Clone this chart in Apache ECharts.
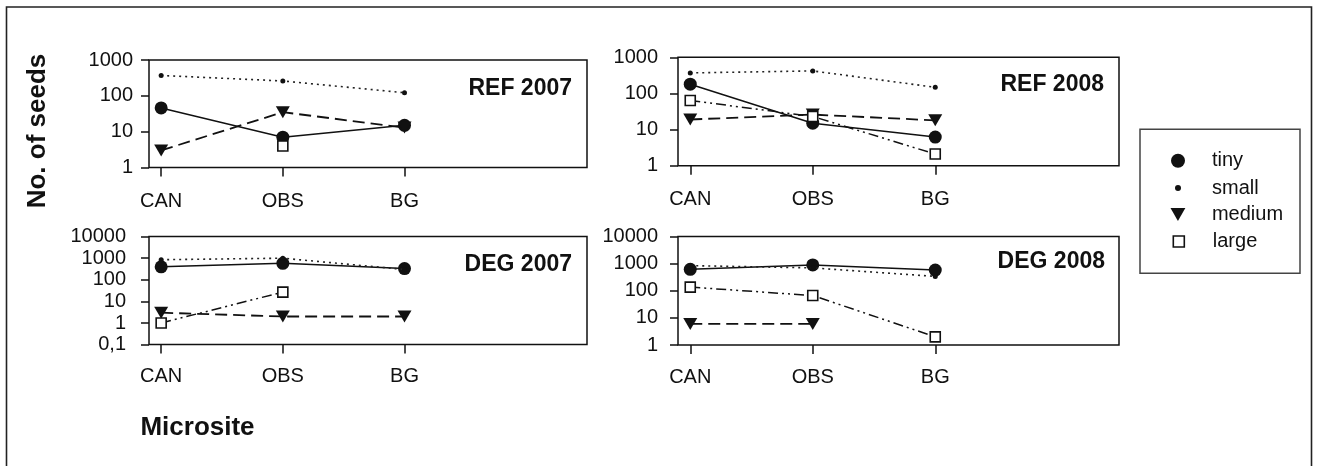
<!DOCTYPE html>
<html><head><meta charset="utf-8">
<script src="https://cdn.jsdelivr.net/npm/echarts@6/dist/echarts.min.js"></script>
<style>html,body{margin:0;padding:0;background:#fff}#c{width:1317px;height:466px}</style>
</head><body><div id="c"></div>
<script>
// ---------------- data ----------------
const categories = ['CAN', 'OBS', 'BG'];
const sizeClasses = ['tiny', 'small', 'medium', 'large'];
const panelTitles = ['REF 2007', 'REF 2008', 'DEG 2007', 'DEG 2008'];
const yAxisName = 'No. of seeds';
const xAxisName = 'Microsite';
const yRanges = [[1, 1000], [1, 1000], [0.1, 10000], [1, 10000]];

const ref2007Tiny   = [46, 7, 15];
const ref2007Small  = [370, 260, 122];
const ref2007Medium = [3, 35, 13];
const ref2007Large  = [null, 4, null];

const ref2008Tiny   = [180, 15, 6.2];
const ref2008Small  = [370, 420, 148];
const ref2008Medium = [19, 26, 18];
const ref2008Large  = [64, 23, 2.1];

const deg2007Tiny   = [400, 580, 330];
const deg2007Small  = [850, 1000, 300];
const deg2007Medium = [3, 2, 2];
const deg2007Large  = [1, 27, null];

const deg2008Tiny   = [620, 900, 580];
const deg2008Small  = [850, 700, 340];
const deg2008Medium = [6, 6, null];
const deg2008Large  = [137, 67, 2];

const panelData = [
  [ref2007Tiny, ref2007Small, ref2007Medium, ref2007Large],
  [ref2008Tiny, ref2008Small, ref2008Medium, ref2008Large],
  [deg2007Tiny, deg2007Small, deg2007Medium, deg2007Large],
  [deg2008Tiny, deg2008Small, deg2008Medium, deg2008Large]
];

// ---------------- layout / style ----------------
const FONT = 'Liberation Sans, Arial, sans-serif';
const INK = '#111';
const AXIS_FONT = 20;
const grids = [
  {left: 149, top: 60,    width: 438, height: 107.5},
  {left: 678, top: 57.3,  width: 441, height: 108.4},
  {left: 149, top: 236.6, width: 438, height: 108},
  {left: 678, top: 236.6, width: 441, height: 108.4}
];
const yLabelMargin = [16, 20, 23, 20];
const xLabelMargin = [24, 24, 22, 22];
const titlePos = [[572, 89], [1104, 85], [572, 265], [1105, 262]];

const seriesStyle = {
  tiny:   {symbol: 'circle', symbolSize: 13, rotate: 0,
           line: {color: INK, width: 1.5, type: 'solid'},
           item: {color: INK}},
  small:  {symbol: 'circle', symbolSize: 5, rotate: 0,
           line: {color: '#222', width: 1.6, type: [2, 4]},
           item: {color: INK}},
  medium: {symbol: 'triangle', symbolSize: [14, 12], rotate: 180,
           line: {color: INK, width: 1.8, type: [12, 6]},
           item: {color: INK}},
  large:  {symbol: 'rect', symbolSize: 10, rotate: 0,
           line: {color: INK, width: 1.5, type: [10, 4, 2, 4, 2, 4]},
           item: {color: '#fff', borderColor: INK, borderWidth: 1.6}}
};

function fmtTick(v) {
  const n = Number(Number(v).toPrecision(6));
  return String(n).replace('.', ',');
}

const xAxes = [], yAxes = [], series = [];
grids.forEach((g, i) => {
  xAxes.push({
    type: 'value', gridIndex: i, min: 0.9, max: 4.5,
    axisLine: {show: false},
    splitLine: {show: false},
    axisTick: {show: true, inside: false, length: 9, customValues: [1, 2, 3],
               lineStyle: {color: INK, width: 1.5}},
    axisLabel: {customValues: [1, 2, 3], margin: xLabelMargin[i],
                formatter: v => categories[Math.round(v) - 1] || '',
                color: INK, fontSize: AXIS_FONT, fontFamily: FONT}
  });
  yAxes.push({
    type: 'log', logBase: 10, gridIndex: i,
    min: yRanges[i][0], max: yRanges[i][1],
    axisLine: {show: false},
    splitLine: {show: false},
    axisTick: {show: true, inside: false, length: 8, lineStyle: {color: INK, width: 1.5}},
    axisLabel: {margin: yLabelMargin[i], formatter: fmtTick,
                color: INK, fontSize: AXIS_FONT, fontFamily: FONT}
  });
  const order = [1, 2, 0, 3]; // small, medium, tiny, large (large on top)
  order.forEach(k => {
    const name = sizeClasses[k];
    const st = seriesStyle[name];
    const vals = panelData[i][k];
    series.push({
      type: 'line', name: name, xAxisIndex: i, yAxisIndex: i,
      data: vals.map((v, j) => [j + 1, v == null ? '-' : v]),
      symbol: st.symbol, symbolSize: st.symbolSize, symbolRotate: st.rotate,
      showAllSymbol: true, connectNulls: false,
      lineStyle: st.line, itemStyle: st.item,
      emphasis: {disabled: true}, silent: true, animation: false, z: 2 + k
    });
  });
});

// legends: one per item so every icon can have its own size
const legendCenters = [160.7, 188, 214.5, 241.5];
const legendIcons = [
  {icon: 'circle', w: 14, h: 14, style: {color: INK, borderWidth: 0}},
  {icon: 'circle', w: 6, h: 6, style: {color: INK, borderWidth: 0}},
  {icon: 'path://M0,0 L2,0 L1,1.75 Z', w: 15, h: 13, style: {color: INK, borderWidth: 0}},
  {icon: 'path://M0,0 L1,0 L1,1 L0,1 Z', w: 11, h: 11, style: {color: '#fff', borderColor: INK, borderWidth: 1.6}}
];
const ICON_CX = 1178, TEXT_X = 1212, LEGEND_FONT = 20;
const legends = sizeClasses.map((name, k) => {
  const ic = legendIcons[k];
  const textPad = TEXT_X - (ICON_CX + ic.w / 2 + 5);
  return {
    orient: 'vertical', padding: 0,
    left: ICON_CX - ic.w / 2,
    top: legendCenters[k] - LEGEND_FONT / 2,
    itemWidth: ic.w, itemHeight: ic.h,
    selectedMode: false,
    data: [{name: name, icon: ic.icon, itemStyle: ic.style}],
    textStyle: {color: INK, fontSize: LEGEND_FONT, fontFamily: FONT, padding: [0, 0, 0, textPad]}
  };
});

const graphic = [
  {type: 'rect', shape: {x: 6.5, y: 7, width: 1305, height: 480},
   style: {fill: 'none', stroke: '#222', lineWidth: 1.6}, silent: true, z: 0},
  {type: 'rect', shape: {x: 1140, y: 129.3, width: 160, height: 144},
   style: {fill: 'none', stroke: '#444', lineWidth: 1.5}, silent: true},
  {type: 'text', x: 38, y: 131, rotation: Math.PI / 2,
   style: {text: yAxisName, font: 'bold 26px ' + FONT, fill: INK,
           textAlign: 'center', textVerticalAlign: 'middle'}},
  {type: 'text', x: 197.5, y: 428,
   style: {text: xAxisName, font: 'bold 26px ' + FONT, fill: INK,
           textAlign: 'center', textVerticalAlign: 'middle'}}
];
panelTitles.forEach((t, i) => {
  graphic.push({type: 'text', x: titlePos[i][0], y: titlePos[i][1],
    style: {text: t, font: 'bold 23px ' + FONT, fill: INK,
            textAlign: 'right', textVerticalAlign: 'middle'}});
});

const chart = echarts.init(document.getElementById('c'), null, {renderer: 'canvas'});
chart.setOption({
  backgroundColor: '#fff',
  animation: false,
  grid: grids.map(g => Object.assign({show: true, borderColor: INK, borderWidth: 1.5,
                                      backgroundColor: 'transparent', containLabel: false}, g)),
  xAxis: xAxes,
  yAxis: yAxes,
  series: series,
  legend: legends,
  graphic: graphic
});
</script>
</body></html>
